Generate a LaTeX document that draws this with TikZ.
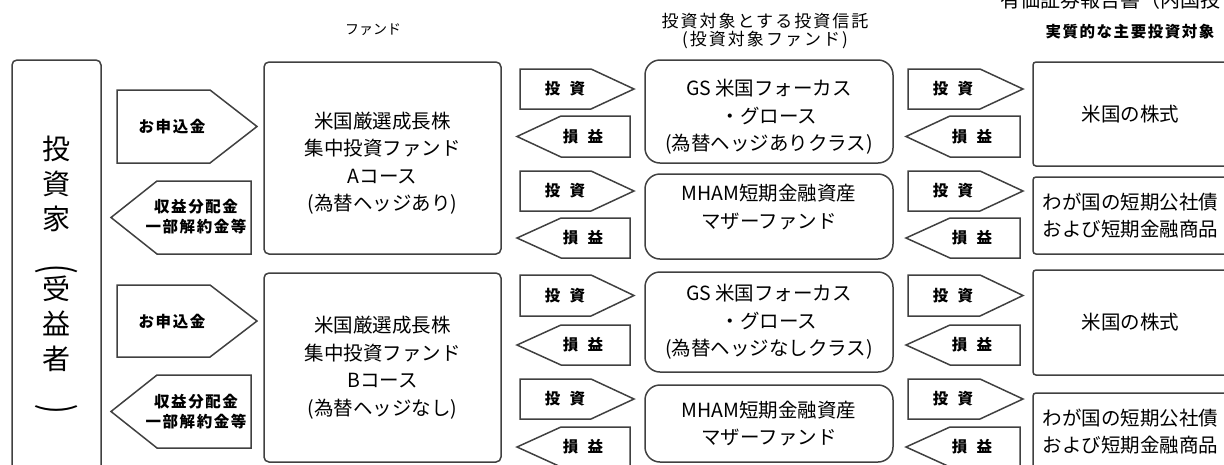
\documentclass[tikz,border=0pt]{standalone}
\usepackage{fontspec}
\setmainfont{Noto Sans CJK JP}
\newfontfamily\tagfont[LetterSpace=10]{Noto Sans CJK JP}
\newfontfamily\headfont[LetterSpace=12]{Noto Sans CJK JP}

\tikzset{
  every node/.style={inner sep=0pt, outer sep=0pt},
  outline/.style={draw=black!75, line width=1.5pt},
  plainbox/.style={outline, rounded corners=3pt, align=center, font=\fontsize{19.5}{27.5}\selectfont},
  fundbox/.style={plainbox, rounded corners=5pt},
  tgtbox/.style={plainbox, rounded corners=15pt},
  boxtext/.style={align=center, font=\fontsize{19.5}{27.5}\selectfont},
  tag/.style={align=center, font=\tagfont\bfseries\fontsize{15.5}{20}\selectfont},
  head/.style={align=center, font=\headfont\fontsize{17}{18}\selectfont}
}

\begin{document}
\begin{tikzpicture}[x=1pt, y=-1pt]
\useasboundingbox (0,0) rectangle (1224,464);

\node (hdoc) at (1000,7) [anchor=base west, font=\fontsize{20}{22}\selectfont] {有価証券報告書（内国投};
\node (hfund) at (373,30) [font=\fontsize{14}{16}\selectfont] {ファンド};
\node (htgt) at (765,31) [head] {投資対象とする投資信託\\(投資対象ファンド)};
\node (hasset) at (1130,32) [tag] {実質的な主要投資対象};

\node (inv) at (56.5,274.5) [fundbox, minimum width=89pt, minimum height=429pt, font=\fontsize{28}{35}\selectfont] {投\\資\\家\\\scalebox{1.5}[1]{\rotatebox{-90}{(}}\\受\\益\\者\\\scalebox{1.5}[1]{\rotatebox{-90}{)}}};

\node (fundA) at (382.5,158) [fundbox, minimum width=237pt, minimum height=192pt] {};
\node (fundAtxt) at (382.5,163) [boxtext] {米国厳選成長株\\集中投資ファンド\\Aコース\\(為替ヘッジあり)};
\node (fundB) at (382.5,367.5) [fundbox, minimum width=237pt, minimum height=189pt] {米国厳選成長株\\集中投資ファンド\\Bコース\\(為替ヘッジなし)};

\node (gsA) at (769,111.5) [tgtbox, minimum width=248pt, minimum height=103pt] {};
\node (gsAtxt) at (769,117) [boxtext] {GS 米国フォーカス\\・グロース\\(為替ヘッジありクラス)};
\node (mmfA) at (769,216.5) [tgtbox, minimum width=248pt, minimum height=85pt] {};
\node (mmfAtxt) at (769,207) [boxtext] {MHAM短期金融資産\\マザーファンド};
\node (gsB) at (769,322) [tgtbox, minimum width=248pt, minimum height=100pt] {GS 米国フォーカス\\・グロース\\(為替ヘッジなしクラス)};
\node (mmfB) at (769,423.5) [tgtbox, minimum width=248pt, minimum height=77pt] {MHAM短期金融資産\\マザーファンド};

\node (usA) at (1130.5,114) [plainbox, minimum width=195pt, minimum height=104pt] {米国の株式};
\node (jpA) at (1130.5,215.5) [plainbox, minimum width=195pt, minimum height=77pt] {わが国の短期公社債\\および短期金融商品};
\node (usB) at (1130.5,322.5) [plainbox, minimum width=195pt, minimum height=105pt] {米国の株式};
\node (jpB) at (1130.5,431.5) [plainbox, minimum width=195pt, minimum height=77pt] {わが国の短期公社債\\および短期金融商品};

\draw[outline] (117,90) -- (210,90) -- (257,126.5) -- (210,163) -- (117,163) -- cycle;
\node (buyA) at (172,127) [tag] {お申込金};
\draw[outline] (251,181) -- (157,181) -- (111,217.5) -- (157,254) -- (251,254) -- cycle;
\node (payA) at (196,216.5) [tag] {収益分配金\\一部解約金等};
\draw[outline] (117,285) -- (210,285) -- (257,321) -- (210,357) -- (117,357) -- cycle;
\node (buyB) at (172,322) [tag] {お申込金};
\draw[outline] (251,375) -- (157,375) -- (111,411.5) -- (157,448) -- (251,448) -- cycle;
\node (payB) at (196,412) [tag] {収益分配金\\一部解約金等};

\draw[outline] (520,69) -- (591,69) -- (634,89) -- (591,109) -- (520,109) -- cycle;
\node (inv1) at (565,89) [tag] {投\hspace{0.6em}資};
\draw[outline] (630,116) -- (561,116) -- (517,136.5) -- (561,157) -- (630,157) -- cycle;
\node (pl1) at (583,137) [tag] {損\hspace{0.6em}益};
\draw[outline] (520,171) -- (591,171) -- (634,191) -- (591,211) -- (520,211) -- cycle;
\node (inv2) at (565,191) [tag] {投\hspace{0.6em}資};
\draw[outline] (630,218) -- (561,218) -- (517,238) -- (561,258) -- (630,258) -- cycle;
\node (pl2) at (583,238) [tag] {損\hspace{0.6em}益};
\draw[outline] (520,275) -- (591,275) -- (634,295.5) -- (591,316) -- (520,316) -- cycle;
\node (inv3) at (565,295.5) [tag] {投\hspace{0.6em}資};
\draw[outline] (630,325) -- (561,325) -- (517,345) -- (561,365) -- (630,365) -- cycle;
\node (pl3) at (583,345) [tag] {損\hspace{0.6em}益};
\draw[outline] (520,379) -- (591,379) -- (634,399) -- (591,419) -- (520,419) -- cycle;
\node (inv4) at (565,399) [tag] {投\hspace{0.6em}資};
\draw[outline] (630,427) -- (561,427) -- (517,447) -- (561,467) -- (630,467) -- cycle;
\node (pl4) at (583,447) [tag] {損\hspace{0.6em}益};

\draw[outline] (908,69) -- (980,69) -- (1023,89) -- (980,109) -- (908,109) -- cycle;
\node (inv5) at (953,89) [tag] {投\hspace{0.6em}資};
\draw[outline] (1020,116) -- (950,116) -- (906,136.5) -- (950,157) -- (1020,157) -- cycle;
\node (pl5) at (972,137) [tag] {損\hspace{0.6em}益};
\draw[outline] (908,171) -- (980,171) -- (1023,191) -- (980,211) -- (908,211) -- cycle;
\node (inv6) at (953,191) [tag] {投\hspace{0.6em}資};
\draw[outline] (1020,218) -- (950,218) -- (906,238) -- (950,258) -- (1020,258) -- cycle;
\node (pl6) at (972,238) [tag] {損\hspace{0.6em}益};
\draw[outline] (908,275) -- (980,275) -- (1023,295.5) -- (980,316) -- (908,316) -- cycle;
\node (inv7) at (953,295.5) [tag] {投\hspace{0.6em}資};
\draw[outline] (1020,325) -- (950,325) -- (906,345) -- (950,365) -- (1020,365) -- cycle;
\node (pl7) at (972,345) [tag] {損\hspace{0.6em}益};
\draw[outline] (908,379) -- (980,379) -- (1023,399) -- (980,419) -- (908,419) -- cycle;
\node (inv8) at (953,399) [tag] {投\hspace{0.6em}資};
\draw[outline] (1020,427) -- (950,427) -- (906,447) -- (950,467) -- (1020,467) -- cycle;
\node (pl8) at (972,447) [tag] {損\hspace{0.6em}益};
\end{tikzpicture}
\end{document}
